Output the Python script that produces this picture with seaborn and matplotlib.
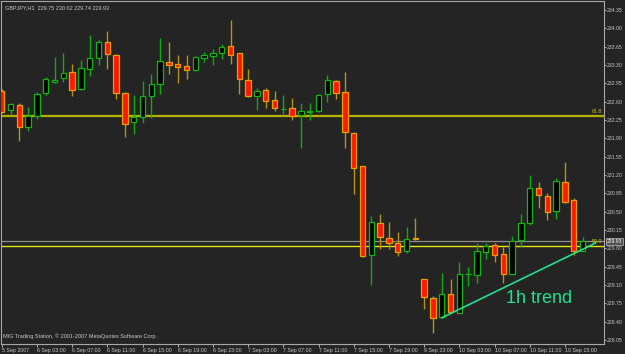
import numpy as np
import pandas as pd
import matplotlib
matplotlib.use("Agg")
import matplotlib.pyplot as plt
import seaborn as sns

# ---------------- data (GBPJPY, H1) ----------------
opens = [232.81, 232.43, 232.53, 232.11, 232.33, 232.76, 232.98, 233.05, 233.16, 232.84,
         233.22, 233.43, 233.73, 233.49, 232.76, 232.21, 232.31, 232.71, 232.94, 233.36,
         233.31, 233.27, 233.20, 233.43, 233.47, 233.53, 233.66, 233.52, 233.01, 232.71,
         232.82, 232.63, 232.46, 232.47, 232.35, 232.41, 232.42, 232.74, 233.00, 232.78,
         232.00, 231.36, 229.67, 230.28, 229.99, 229.90, 229.75, 229.99, 229.21, 228.85,
         228.48, 228.92, 228.57, 229.30, 229.28, 229.72, 229.86, 229.69, 229.31, 229.96,
         230.29, 230.95, 230.80, 230.51, 231.07, 230.72, 229.75]
highs = [232.84, 232.58, 232.58, 232.50, 232.78, 233.06, 233.45, 233.53, 233.32, 233.39,
         233.87, 233.78, 233.95, 233.50, 232.79, 232.72, 232.99, 233.12, 233.82, 233.74,
         233.49, 233.48, 233.47, 233.55, 233.61, 233.70, 234.16, 233.53, 233.23, 232.85,
         232.86, 232.81, 232.73, 232.66, 232.57, 232.57, 232.74, 233.11, 233.01, 233.17,
         232.02, 231.37, 230.42, 230.45, 230.30, 230.10, 230.21, 230.37, 229.22, 228.88,
         229.32, 229.21, 229.53, 229.44, 229.90, 229.90, 229.90, 229.83, 230.03, 230.45,
         231.20, 231.07, 230.86, 231.14, 231.45, 230.75, 230.02]
lows = [232.38, 232.34, 231.84, 232.03, 232.26, 232.72, 232.96, 232.98, 232.71, 232.82,
        233.08, 233.29, 233.22, 232.65, 231.92, 231.98, 232.19, 232.28, 232.74, 233.12,
        232.96, 233.03, 233.19, 233.36, 233.30, 233.42, 233.31, 232.74, 232.68, 232.44,
        232.48, 232.42, 232.36, 232.25, 231.72, 232.25, 232.41, 232.60, 232.65, 231.72,
        230.83, 229.63, 229.09, 229.79, 229.78, 229.65, 229.71, 229.96, 228.64, 228.19,
        228.46, 228.57, 228.56, 229.07, 229.14, 229.60, 229.54, 229.14, 229.30, 229.83,
        230.24, 230.56, 230.34, 230.35, 230.67, 229.67, 229.74]
closes = [232.40, 232.55, 232.12, 232.33, 232.74, 233.03, 233.02, 233.15, 232.83, 233.25,
          233.43, 233.74, 233.50, 232.76, 232.18, 232.31, 232.71, 232.94, 233.38, 233.29,
          233.26, 233.20, 233.46, 233.49, 233.53, 233.65, 233.49, 233.03, 232.70, 232.80,
          232.62, 232.47, 232.46, 232.33, 232.42, 232.42, 232.72, 233.01, 232.76, 232.01,
          231.34, 229.65, 230.30, 230.01, 229.90, 229.72, 229.97, 229.98, 228.86, 228.47,
          228.92, 228.59, 229.30, 229.31, 229.75, 229.84, 229.67, 229.31, 229.93, 230.28,
          230.95, 230.81, 230.50, 231.08, 230.69, 229.74, 229.93]

x_tick_bars = [0, 4, 8, 12, 16, 20, 24, 28, 32, 36, 40, 44, 48, 52, 56, 60, 64]
x_tick_labels = ["5 Sep 2007", "6 Sep 03:00", "6 Sep 07:00", "6 Sep 11:00", "6 Sep 15:00",
                 "6 Sep 19:00", "6 Sep 23:00", "7 Sep 03:00", "7 Sep 07:00", "7 Sep 11:00",
                 "7 Sep 15:00", "7 Sep 19:00", "9 Sep 23:00", "10 Sep 03:00", "10 Sep 07:00",
                 "10 Sep 11:00", "10 Sep 15:00"]
y_tick_values = [228.05, 228.40, 228.75, 229.10, 229.45, 229.80, 230.15, 230.50, 230.85,
                 231.20, 231.55, 231.90, 232.25, 232.60, 232.95, 233.30, 233.65, 234.00, 234.35]

fib_levels = [232.33, 229.84]
fib_labels = ["61.8", "50.0"]
bid_price = 229.93
trend_x = [50.0, 67.5]
trend_y = [228.47, 229.90]
trend_label = "1h trend"
header_text = "GBPJPY,H1  229.75 230.02 229.74 229.93"
footer_text = "MIG Trading Station, \u00a9 2001-2007 MetaQuotes Software Corp."

# ---------------- styling ----------------
sns.set_theme(style="dark")
BG = "#242424"
FRAME = "#a8a8a8"
TXT = "#c8c8c8"
plt.rcParams["font.family"] = ["Liberation Sans", "DejaVu Sans"]

fig = plt.figure(figsize=(6.25, 3.54), dpi=100, facecolor=BG)
W, H = 625.0, 354.0
ax = fig.add_axes([1.5 / W, 1 - 343.5 / H, (604 - 1.5) / W, (343.5 - 1) / H])
ax.set_facecolor(BG)

df = pd.DataFrame({"bar": np.arange(len(opens)), "open": opens, "high": highs,
                   "low": lows, "close": closes})
df["bull"] = df["close"] >= df["open"]

BULL_EDGE = "#14b414"
BULL_WICK = "#12a812"
BEAR_FACE = "#ff1800"
BEAR_EDGE = "#e8a000"
BEAR_WICK = "#b8901c"

for is_bull, sub in df.groupby("bull"):
    wick_col = BULL_WICK if is_bull else BEAR_WICK
    ax.vlines(sub["bar"], sub["low"], sub["high"], colors=wick_col, lw=1.0, zorder=2)
    bottoms = np.minimum(sub["open"], sub["close"])
    heights = np.abs(sub["close"] - sub["open"])
    ax.bar(sub["bar"], heights, bottom=bottoms, width=0.62,
           color="black" if is_bull else BEAR_FACE,
           edgecolor=BULL_EDGE if is_bull else BEAR_EDGE, linewidth=0.9, zorder=3)

# horizontal levels
ax.axhline(fib_levels[0], color="#b8b000", lw=1.6, zorder=1)
ax.axhline(bid_price, color="#8c8c8c", lw=0.9, zorder=1)
ax.axhline(fib_levels[1], color="#e4e410", lw=1.0, zorder=1)
for lv, lab in zip(fib_levels, fib_labels):
    ax.annotate(lab, xy=(1.0, lv), xycoords=("axes fraction", "data"),
                xytext=(-1.5, 1.2), textcoords="offset points", ha="right", va="bottom",
                fontsize=3.8, color="#c8c800", zorder=6)

# trend line
tdf = pd.DataFrame({"x": trend_x, "y": trend_y})
sns.lineplot(data=tdf, x="x", y="y", ax=ax, color="#22e08c", lw=1.2, zorder=5)
ax.text(57.3, 228.83, trend_label, fontsize=13, color="#22e08c", ha="left", va="center",
        zorder=6)

# limits
ax.set_xlim(-0.023, 68.44)
ax.set_ylim(227.98, 234.52)
ax.set_xlabel("")
ax.set_ylabel("")
ax.grid(False)

# axes / ticks
for s in ax.spines.values():
    s.set_visible(True)
    s.set_color(FRAME)
    s.set_linewidth(0.8)

ax.yaxis.tick_right()
ax.set_yticks(y_tick_values)
ax.set_yticklabels([f"{v:.2f}" for v in y_tick_values])
ax.tick_params(axis="y", right=True, left=False, length=1.5, width=0.6, pad=0.6,
               labelsize=3.7, colors=TXT)
ax.set_xticks(x_tick_bars)
ax.set_xticklabels(x_tick_labels)
ax.tick_params(axis="x", bottom=True, length=2, width=0.6, pad=1.0,
               labelsize=3.8, colors=TXT)
for lbl in ax.get_xticklabels():
    lbl.set_ha("left")

# current price box
ax.annotate(f"{bid_price:.2f}", xy=(1.0, bid_price), xycoords=("axes fraction", "data"),
            xytext=(2.2, 0), textcoords="offset points", ha="left", va="center",
            fontsize=3.6, color="white", zorder=7, annotation_clip=False,
            bbox=dict(boxstyle="square,pad=0.2", facecolor="#505050",
                      edgecolor="#c0c0c0", linewidth=0.5))

# header / footer
ax.text(0.005, 0.987, header_text, transform=ax.transAxes, fontsize=4.0, color=TXT,
        ha="left", va="top", zorder=7)
ax.text(0.003, 0.012, footer_text, transform=ax.transAxes, fontsize=4.0, color=TXT,
        ha="left", va="bottom", zorder=7)

fig.savefig("out.png", dpi=100, facecolor=fig.get_facecolor())
